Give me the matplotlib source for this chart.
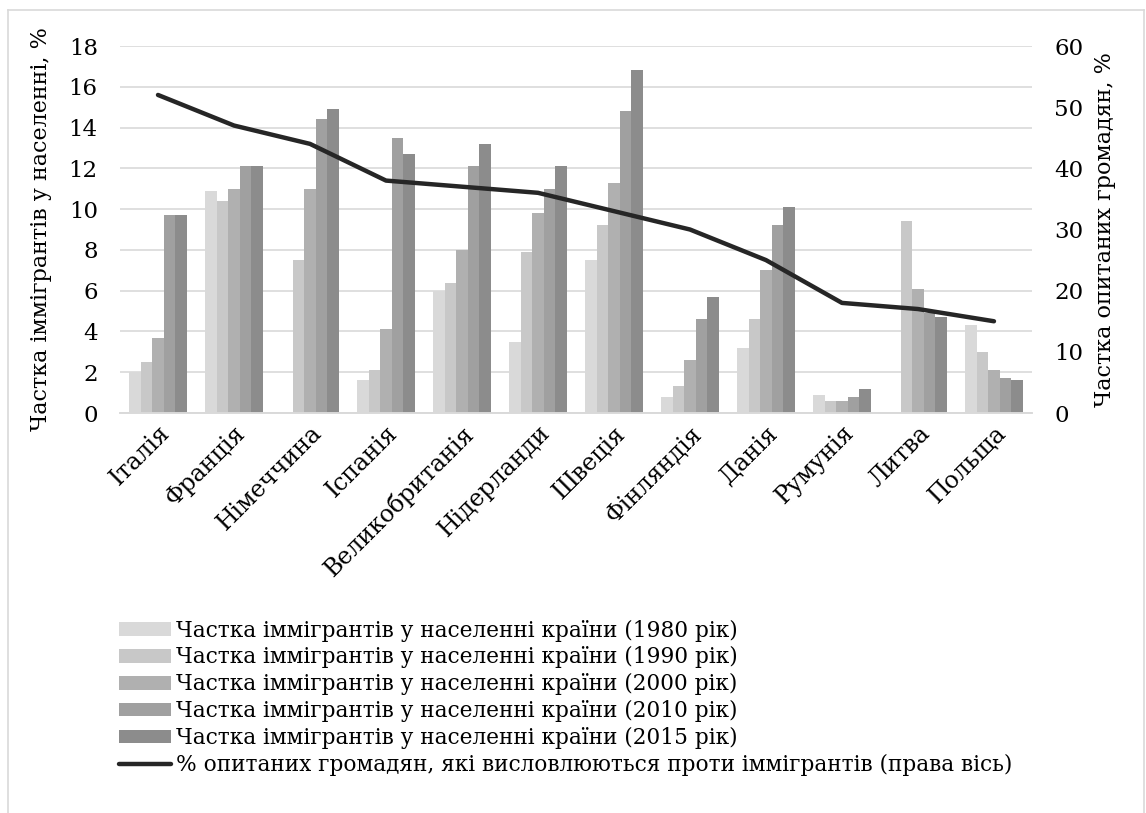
import matplotlib
matplotlib.use("Agg")
import matplotlib.pyplot as plt
from matplotlib.lines import Line2D
import numpy as np

plt.rcParams["font.family"] = ["DejaVu Serif", "Liberation Serif"]

# ── дані ────────────────────────────────────────────────────
countries = ["Італія", "Франція", "Німеччина", "Іспанія", "Великобританія", "Нідерланди",
             "Швеція", "Фінляндія", "Данія", "Румунія", "Литва", "Польща"]
share_1980 = [2.0, 10.9, np.nan, 1.6, 6.0, 3.5, 7.5, 0.8, 3.2, 0.9, np.nan, 4.3]
share_1990 = [2.5, 10.4, 7.5, 2.1, 6.4, 7.9, 9.2, 1.3, 4.6, 0.6, 9.4, 3.0]
share_2000 = [3.7, 11.0, 11.0, 4.1, 8.0, 9.8, 11.3, 2.6, 7.0, 0.6, 6.1, 2.1]
share_2010 = [9.7, 12.1, 14.4, 13.5, 12.1, 11.0, 14.8, 4.6, 9.2, 0.8, 4.9, 1.7]
share_2015 = [9.7, 12.1, 14.9, 12.7, 13.2, 12.1, 16.8, 5.7, 10.1, 1.2, 4.7, 1.6]
against = [52, 47, 44, 38, 37, 36, 33, 30, 25, 18, 17, 15]

series = [share_1980, share_1990, share_2000, share_2010, share_2015]
years = ["1980", "1990", "2000", "2010", "2015"]
colors = ["#d9d9d9", "#c8c8c8", "#b0b0b0", "#a0a0a0", "#8c8c8c"]

fig = plt.figure(figsize=(11.46, 8.13), dpi=100)
ax = fig.add_axes([0.1047, 0.492, 0.7958, 0.4514])
ax2 = ax.twinx()

x = np.arange(len(countries))
bw = 0.153
handles = []
for i, (vals, yr, c) in enumerate(zip(series, years, colors)):
    b = ax.bar(x + (i - 2) * bw, vals, bw, color=c, zorder=2,
               label=f"Частка іммігрантів у населенні країни ({yr} рік)")
    handles.append(b)

ln, = ax2.plot(x, against, color="#262626", lw=3.2, solid_capstyle="round",
               solid_joinstyle="round", zorder=3,
               label="% опитаних громадян, які висловлюються проти іммігрантів (права вісь)")
handles.append(ln)

ax.set_xlim(-0.5, len(countries) - 0.5)
ax.set_ylim(0, 18)
ax.set_yticks(range(0, 19, 2))
ax2.set_ylim(0, 60)
ax2.set_yticks(range(0, 61, 10))

ax.grid(axis="y", color="#d9d9d9", lw=1.2, zorder=0)
ax.set_axisbelow(True)
for a in (ax, ax2):
    for s in ("top", "left", "right"):
        a.spines[s].set_visible(False)
    a.spines["bottom"].set_color("#d9d9d9")
    a.spines["bottom"].set_linewidth(1.2)
    a.tick_params(length=0, labelsize=16.5)

ax.tick_params(axis="y", pad=16)
ax2.tick_params(axis="y", pad=16)
ax.set_xticks(x)
ax.set_xticklabels(countries, rotation=45, ha="right", rotation_mode="anchor", fontsize=17)
ax.tick_params(axis="x", pad=6)

ax.set_ylabel("Частка іммігрантів у населенні, %", fontsize=16, labelpad=12)
ax2.set_ylabel("Частка опитаних громадян, %", fontsize=16, labelpad=8)

fig.legend(handles=handles, loc="upper left", bbox_to_anchor=(0.104, 0.238),
           frameon=False, fontsize=15.6, handlelength=2.4, handleheight=0.6,
           handletextpad=0.2, labelspacing=0.22, borderaxespad=0, borderpad=0)

# рамка діаграми
for xs, ys in [([8 / 1146, 8 / 1146], [0, 1 - 10 / 813]),
               ([8 / 1146, 1144 / 1146], [1 - 10 / 813, 1 - 10 / 813]),
               ([1144 / 1146, 1144 / 1146], [0, 1 - 10 / 813])]:
    fig.add_artist(Line2D(xs, ys, color="#d9d9d9", lw=1.2, transform=fig.transFigure))

fig.savefig("out.png", dpi=100)
